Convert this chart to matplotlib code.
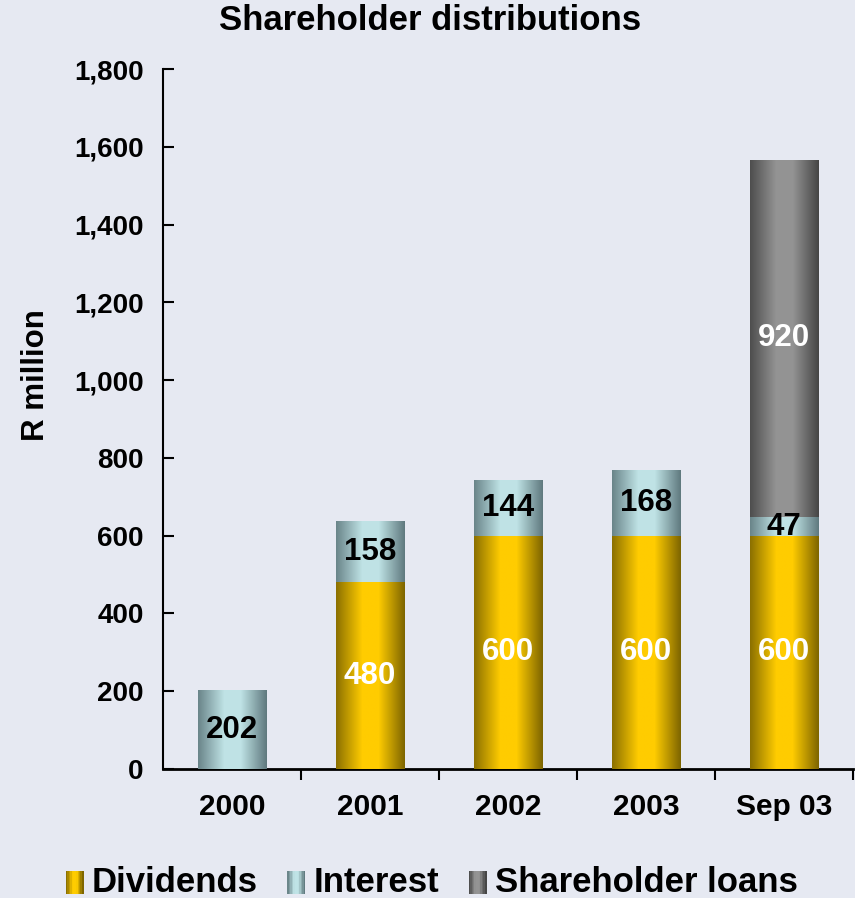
import numpy as np
import matplotlib
matplotlib.use("Agg")
import matplotlib.pyplot as plt
from matplotlib.patches import Rectangle
from matplotlib.legend_handler import HandlerBase
from matplotlib.ticker import FuncFormatter

# ---- data ----
categories = ["2000", "2001", "2002", "2003", "Sep 03"]
dividends = [0, 480, 600, 600, 600]
interest = [202, 158, 144, 168, 47]
shareholder_loans = [0, 0, 0, 0, 920]
series_names = ["Dividends", "Interest", "Shareholder loans"]
title = "Shareholder distributions"
ylabel = "R million"
yticks = [0, 200, 400, 600, 800, 1000, 1200, 1400, 1600, 1800]

# ---- style ----
BG = "#E6E9F2"
FONT = "Liberation Sans"
plt.rcParams["font.family"] = [FONT, "DejaVu Sans"]
plt.rcParams["font.weight"] = "bold"

dark = {"Dividends": np.array([0.47, 0.38, 0.0]),
        "Interest": np.array([0.36, 0.46, 0.48]),
        "Shareholder loans": np.array([0.26, 0.26, 0.26])}
bright = {"Dividends": np.array([1.0, 0.80, 0.0]),
          "Interest": np.array([0.75, 0.89, 0.90]),
          "Shareholder loans": np.array([0.58, 0.58, 0.58])}
label_color = {"Dividends": "white", "Interest": "black", "Shareholder loans": "white"}

prof_x = [0.0, 0.38, 0.62, 1.0]
prof_v = [0.15, 1.0, 1.0, 0.05]


def gradient(name, n=64):
    t = np.interp(np.linspace(0, 1, n), prof_x, prof_v)
    cols = dark[name][None, :] * (1 - t[:, None]) + bright[name][None, :] * t[:, None]
    return cols[None, :, :]


class GradHandler(HandlerBase):
    def __init__(self, name):
        super().__init__()
        self.name = name

    def create_artists(self, legend, orig_handle, xdescent, ydescent, width,
                       height, fontsize, trans):
        g = gradient(self.name, 12)[0]
        w = width * 0.56
        h = height * 0.95
        x0 = -xdescent + width * 0.44
        y0 = -ydescent - height * 0.08
        arts = []
        n = len(g)
        for i, c in enumerate(g):
            r = Rectangle((x0 + i * w / n, y0), w / n + 0.3, h, facecolor=c,
                          edgecolor="none", transform=trans)
            arts.append(r)
        return arts


fig = plt.figure(figsize=(8.55, 8.98), dpi=100, facecolor=BG)
ax = fig.add_axes([163 / 855, 1 - 769 / 898, (853 - 163) / 855, (769 - 69) / 898])
ax.set_facecolor(BG)

x = np.arange(len(categories))
width = 0.5
bottoms = np.zeros(len(categories))
for name, vals in zip(series_names, [dividends, interest, shareholder_loans]):
    vals = np.array(vals, dtype=float)
    bars = ax.bar(x, vals, width, bottom=bottoms, color=bright[name], label=name,
                  edgecolor="none", zorder=2)
    grad = gradient(name)
    for b, v, bt in zip(bars, vals, bottoms):
        if v <= 0:
            continue
        x0, y0 = b.get_x(), b.get_y()
        im = ax.imshow(grad, extent=(x0, x0 + b.get_width(), y0, y0 + b.get_height()),
                       aspect="auto", interpolation="bilinear", zorder=3)
        im.set_clip_path(b)
        ax.text(b.get_x() + b.get_width() / 2, bt + v / 2, f"{int(v)}",
                ha="center", va="center", fontsize=22.5, fontweight="bold",
                color=label_color[name], zorder=4)
    bottoms = bottoms + vals

ax.set_xlim(-0.5, len(categories) - 0.5)
ax.set_ylim(0, 1800)
ax.set_yticks(yticks)
ax.yaxis.set_major_formatter(FuncFormatter(lambda v, p: f"{int(v):,}"))
ax.tick_params(axis="y", direction="in", length=8, width=1.5, labelsize=20, pad=14)
ax.set_xticks(x)
ax.set_xticklabels(categories)
ax.tick_params(axis="x", which="major", length=0, labelsize=21.5, pad=17)
ax.set_xticks(np.arange(len(categories)) + 0.5, minor=True)
ax.tick_params(axis="x", which="minor", direction="out", length=8, width=1.5)
for lab in ax.get_xticklabels() + ax.get_yticklabels():
    lab.set_fontweight("bold")

for s in ["top", "right"]:
    ax.spines[s].set_visible(False)
ax.spines["left"].set_linewidth(1.5)
ax.spines["bottom"].set_linewidth(2)

ax.set_ylabel(ylabel, fontsize=22.5, fontweight="bold")
ax.yaxis.set_label_coords((51 - 163) / 690, (769 - 375) / 700)
fig.text(0.503, 1 - 21 / 898, title, ha="center", va="center", fontsize=25,
         fontweight="bold")

handles = [Rectangle((0, 0), 1, 1) for _ in series_names]
leg = fig.legend(handles, series_names, loc="center",
                 bbox_to_anchor=(0.497, 1 - 883 / 898), ncol=3, frameon=False,
                 prop={"size": 25, "weight": "bold", "family": [FONT, "DejaVu Sans"]},
                 handlelength=0.9, handletextpad=0.25, columnspacing=0.45,
                 handler_map={h: GradHandler(n) for h, n in zip(handles, series_names)})

fig.savefig("out.png", dpi=100, facecolor=BG)
